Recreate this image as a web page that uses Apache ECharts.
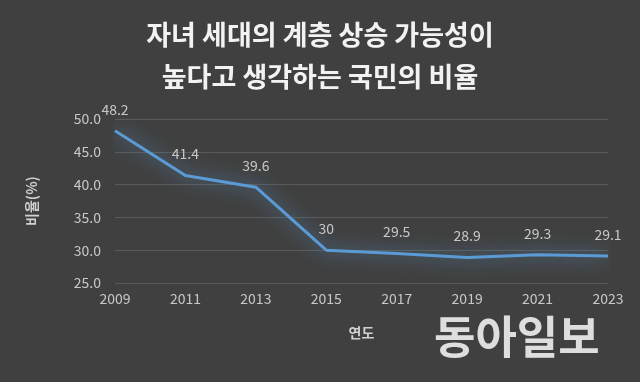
<!DOCTYPE html>
<html><head><meta charset="utf-8">
<script src="https://cdn.jsdelivr.net/npm/echarts@6/dist/echarts.min.js"></script>
<style>html,body{margin:0;padding:0;background:#404040;}#c{width:640px;height:382px;}</style>
</head><body><div id="c"></div>
<script>
const years = ['2009','2011','2013','2015','2017','2019','2021','2023'];
const ratio = [48.2, 41.4, 39.6, 30, 29.5, 28.9, 29.3, 29.1];
const yTicks = [25, 30, 35, 40, 45, 50];
const titleLines = ['자녀 세대의 계층 상승 가능성이', '높다고 생각하는 국민의 비율'];
const F = '"Noto Sans CJK KR", "Noto Sans", sans-serif';
const chart = echarts.init(document.getElementById('c'));
chart.setOption({
  backgroundColor: '#404040',
  animation: false,
  title: {
    text: titleLines.join('\n'),
    left: 'center', top: 9,
    textStyle: { color: '#f2f2f2', fontSize: 27, fontWeight: 'bold', fontFamily: F, lineHeight: 42 }
  },
  grid: { left: 115, right: 32, top: 119, bottom: 99 },
  xAxis: {
    type: 'category', data: years, boundaryGap: false,
    name: '연도', nameLocation: 'middle', nameGap: 43,
    nameTextStyle: { color: '#d0d0d0', fontSize: 14, fontWeight: 'bold', fontFamily: F },
    axisLine: { show: false }, axisTick: { show: false },
    axisLabel: { color: '#c8c8c8', fontSize: 14, margin: 9, fontFamily: F }
  },
  yAxis: {
    type: 'value', min: yTicks[0], max: yTicks[yTicks.length-1], interval: 5,
    name: '비율(%)', nameLocation: 'middle', nameGap: 76, nameRotate: 90,
    nameTextStyle: { color: '#d0d0d0', fontSize: 14, fontWeight: 'bold', fontFamily: F },
    axisLine: { show: false }, axisTick: { show: false },
    axisLabel: { color: '#c8c8c8', fontSize: 14, margin: 14, fontFamily: F, formatter: v => v.toFixed(1) },
    splitLine: { lineStyle: { color: '#5a5a5a', width: 1 } }
  },
  series: [{
    type: 'line', data: ratio, symbol: 'circle', symbolSize: 1, showSymbol: true,
    itemStyle: { color: 'rgba(0,0,0,0)' },
    lineStyle: { color: '#5b9bd5', width: 3, shadowColor: 'rgba(91,155,213,1)', shadowBlur: 18 },
    label: { show: true, position: 'top', distance: 14, color: '#c8c8c8', fontSize: 14, fontFamily: F }
  }],
  graphic: [{
    type: 'text', left: 434, top: 314,
    style: { text: '동아일보', fill: 'rgba(235,235,235,0.92)', font: 'bold 45px "Noto Sans CJK KR", sans-serif' }
  }]
});
</script></body></html>
